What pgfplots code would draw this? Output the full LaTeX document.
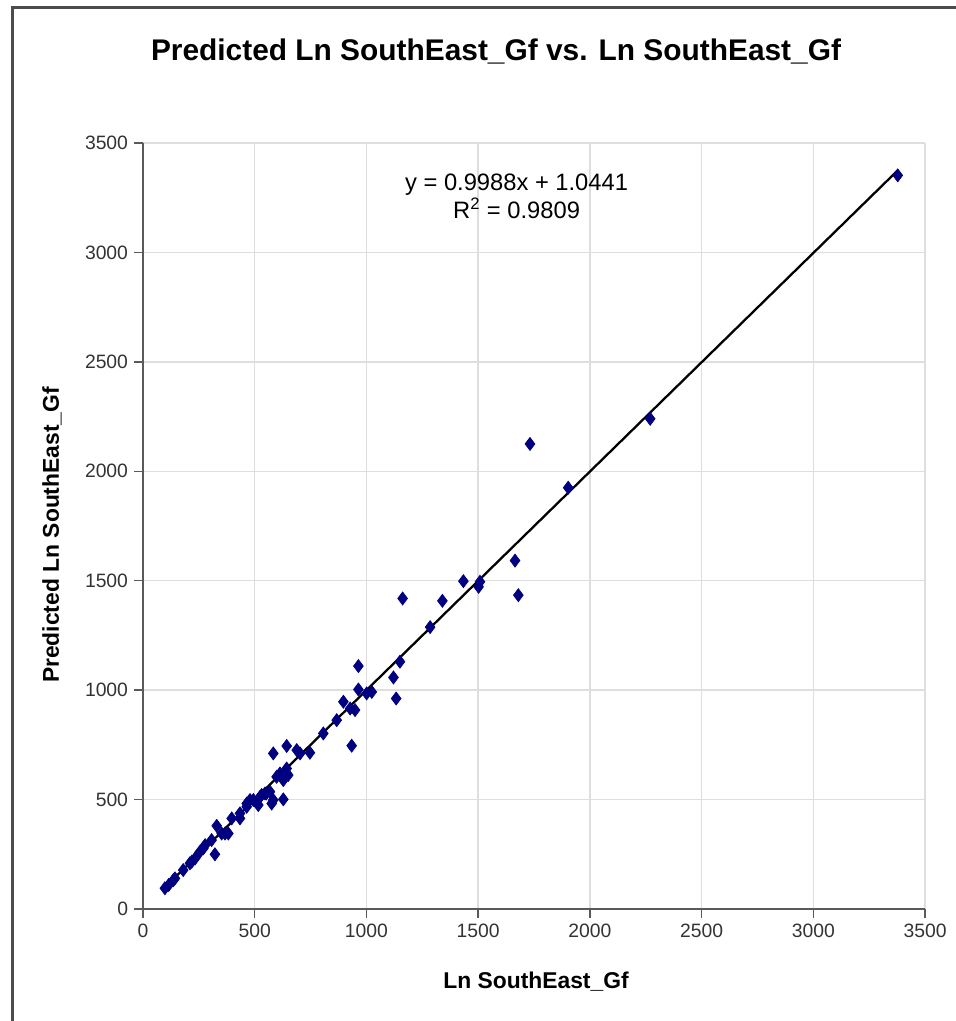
\documentclass[border=0pt]{standalone}
\usepackage{pgfplots}
\pgfplotsset{compat=1.18}
\usepackage{fontspec}
\setmainfont{Liberation Sans}

\definecolor{navyblue}{RGB}{0,0,128}
\definecolor{gridgray}{RGB}{222,222,222}
\definecolor{axisgray}{RGB}{90,90,90}

\pgfplotstableread{
x y
3378 3352
2270 2240
1903 1925
1732 2125
1665 1592
1680 1434
1502 1472
1508 1495
1434 1498
1340 1408
1162 1419
1285 1288
1150 1130
964 1110
1121 1058
1133 962
964 1003
1001 985
1024 992
897 947
927 916
949 909
867 863
807 802
934 746
747 714
703 711
583 711
643 745
688 726
598 604
643 642
650 612
628 589
613 619
576 482
628 501
546 528
568 536
531 521
479 498
464 482
494 498
516 475
524 513
552 528
583 498
397 414
434 414
434 437
464 467
352 345
382 345
367 345
330 380
322 250
307 315
270 277
278 292
255 262
233 231
218 216
210 209
180 178
143 140
136 132
115 110
98 95
}\datatable

\begin{document}
\begin{tikzpicture}
% frame of the picture: 955 x 1021 px, 1 px = 0.02 cm
\useasboundingbox (0,0) rectangle (19.1,-20.42);
\draw[line width=1.2pt, black!70] (0.25,-0.15) rectangle (19.6,-20.9);

\begin{axis}[
  at={(2.86cm,-18.18cm)},
  anchor=south west,
  scale only axis,
  width=15.64cm,
  height=15.32cm,
  xmin=0, xmax=3500,
  ymin=0, ymax=3500,
  xtick={0,500,...,3500},
  ytick={0,500,...,3500},
  axis x line*=bottom,
  axis y line*=left,
  axis line style={axisgray, line width=0.9pt},
  tick style={axisgray, line width=0.8pt},
  tick align=outside,
  major tick length=5pt,
  grid=major,
  major grid style={gridgray, line width=0.8pt},
  tick label style={font=\fontsize{11}{13}\selectfont, text=black!80},
  /pgf/number format/assume math mode=true,
  /pgf/number format/1000 sep={},
  clip=false,
]
\addplot[black, line width=1.3pt] coordinates {(95,95.9) (3380,3377)};
\addplot[only marks, mark=diamond*, mark size=3.7pt,
  mark options={fill=navyblue, draw=navyblue}] table[x=x, y=y] {\datatable};
\node[align=center, font=\fontsize{13.5}{16}\selectfont] at (axis cs:1672,3255)
  {y = 0.9988x + 1.0441\\R\textsuperscript{2} = 0.9809};
\end{axis}

\node[font=\bfseries\fontsize{17}{20}\selectfont] at (9.92,-1.04)
  {Predicted Ln SouthEast\_Gf vs. Ln SouthEast\_Gf};
\node[font=\bfseries\fontsize{13}{16}\selectfont] at (10.72,-19.64)
  {Ln SouthEast\_Gf};
\node[font=\bfseries\fontsize{13}{16}\selectfont, rotate=90] at (1.04,-10.7)
  {Predicted Ln SouthEast\_Gf};
\end{tikzpicture}
\end{document}
